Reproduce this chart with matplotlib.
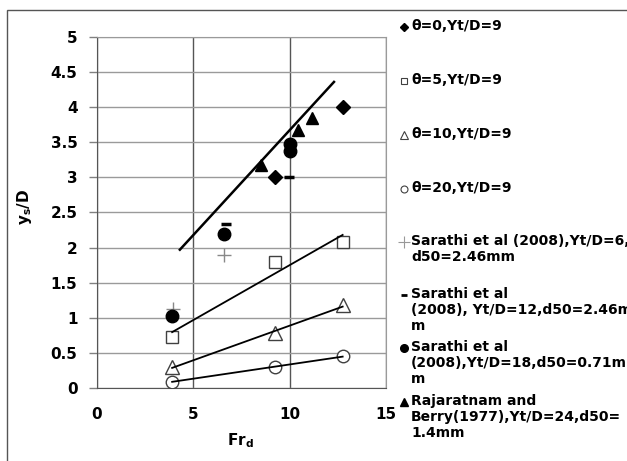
import numpy as np
import matplotlib
matplotlib.use('Agg')
import matplotlib.pyplot as plt
from matplotlib.lines import Line2D
from matplotlib.patches import Rectangle
from matplotlib.ticker import FuncFormatter

plt.rcParams['font.family'] = ['DejaVu Sans']
plt.rcParams['font.weight'] = 'bold'
plt.rcParams['mathtext.fontset'] = 'custom'
plt.rcParams['mathtext.rm'] = 'DejaVu Sans:bold'
plt.rcParams['mathtext.bf'] = 'DejaVu Sans:bold'
plt.rcParams['mathtext.it'] = 'DejaVu Sans:bold'

# theta = 0, 5, 10, 20 at Yt/D = 9
fr_t0 = [9.25, 12.75]
ys_t0 = [3.0, 4.0]
fr_t5 = [3.9, 9.25, 12.75]
ys_t5 = [0.73, 1.8, 2.08]
fr_t10 = [3.9, 9.25, 12.75]
ys_t10 = [0.3, 0.78, 1.18]
fr_t20 = [3.9, 9.25, 12.75]
ys_t20 = [0.09, 0.3, 0.45]

# Sarathi et al (2008)
fr_s6 = [3.95, 6.6]
ys_s6 = [1.12, 1.9]
fr_s12 = [6.7, 9.95]
ys_s12 = [2.33, 3.01]
fr_s18 = [3.9, 6.6, 10.0, 10.0]
ys_s18 = [1.03, 2.19, 3.38, 3.47]

# Rajaratnam and Berry (1977)
fr_rb = [8.5, 10.42, 11.15]
ys_rb = [3.18, 3.68, 3.84]

# envelope line
env_fr = [4.3, 12.3]
env_ys = [1.97, 4.36]

legend_labels = [
    'θ=0,Yt/D=9',
    'θ=5,Yt/D=9',
    'θ=10,Yt/D=9',
    'θ=20,Yt/D=9',
    'Sarathi et al (2008),Yt/D=6,\nd50=2.46mm',
    'Sarathi et al\n(2008), Yt/D=12,d50=2.46m\nm',
    'Sarathi et al\n(2008),Yt/D=18,d50=0.71m\nm',
    'Rajaratnam and\nBerry(1977),Yt/D=24,d50=\n1.4mm',
]

W, H = 627, 461
fig = plt.figure(figsize=(W / 100, H / 100), dpi=100)
fx = lambda px: px / W
fy = lambda py: 1 - py / H

ax = fig.add_axes([fx(97), fy(388), fx(386) - fx(97), fy(37) - fy(388)])

gray_edge = '#404040'
ax.plot(fr_t0, ys_t0, 'D', color='black', ms=7, zorder=5)
ax.plot(fr_t5, ys_t5, 's', mfc='white', mec=gray_edge, ms=9, mew=1, zorder=4)
ax.plot(fr_t10, ys_t10, '^', mfc='white', mec=gray_edge, ms=10, mew=1, zorder=4)
ax.plot(fr_t20, ys_t20, 'o', mfc='white', mec=gray_edge, ms=9, mew=1, zorder=4)
ax.plot(fr_s6, ys_s6, '+', color='#888888', ms=10, mew=1, zorder=4)
ax.plot(fr_s12, ys_s12, '_', color='black', ms=7, mew=2.5, zorder=4)
ax.plot(fr_s18, ys_s18, 'o', color='black', ms=9, zorder=5)
ax.plot(fr_rb, ys_rb, '^', color='black', ms=9, zorder=5)

# linear trend lines for the open-marker series
for xs, ys in [(fr_t5, ys_t5), (fr_t10, ys_t10), (fr_t20, ys_t20)]:
    k, b = np.polyfit(xs, ys, 1)
    xx = np.array([min(xs), max(xs)])
    ax.plot(xx, k * xx + b, color='black', lw=1.3, zorder=6)
ax.plot(env_fr, env_ys, color='black', lw=1.8, zorder=6)

ax.set_xlim(0, 15)
ax.set_ylim(0, 5)
ax.set_xticks([0, 5, 10, 15])
ax.set_yticks(np.arange(0, 5.01, 0.5))
ax.yaxis.set_major_formatter(FuncFormatter(lambda v, p: '%g' % v))
ax.tick_params(axis='both', labelsize=11, colors='black')
ax.tick_params(axis='y', length=6, width=1, color='#808080', pad=8)
ax.tick_params(axis='x', length=0, pad=14)
ax.xaxis.grid(True, color='#555555', lw=1)
ax.yaxis.grid(True, color='#9a9a9a', lw=1)
ax.set_axisbelow(True)
for side in ['left', 'bottom']:
    ax.spines[side].set_color('#555555')
for side in ['top', 'right']:
    ax.spines[side].set_color('#9a9a9a')

ax.set_xlabel(r'Fr$_\mathregular{d}$', fontsize=11, fontweight='bold')
ax.xaxis.set_label_coords((240 - 97) / (386 - 97), -(431 - 388) / (388 - 37))
ax.set_ylabel(r'y$_\mathregular{s}$/D', fontsize=11, fontweight='bold')
ax.yaxis.set_label_coords(-(97 - 34) / (386 - 97), (388 - 207) / (388 - 37))

# outer frame
fig.add_artist(Rectangle((fx(7), -0.1), 1.2, fy(10) + 0.1, transform=fig.transFigure,
                         fill=False, edgecolor='#555555', lw=1))

# legend, placed by hand
leg_markers = [
    dict(marker='D', color='black', ms=4.5),
    dict(marker='s', mfc='white', mec=gray_edge, ms=5, mew=0.8),
    dict(marker='^', mfc='white', mec=gray_edge, ms=6, mew=0.8),
    dict(marker='o', mfc='white', mec=gray_edge, ms=5, mew=0.8),
    dict(marker='+', color='#999999', ms=8, mew=0.8),
    dict(marker='_', color='black', ms=4, mew=2),
    dict(marker='o', color='black', ms=5.5),
    dict(marker='^', color='black', ms=6),
]
leg_y = [27, 81, 135, 189, 242, 295, 348, 402]
for lab, mk, py in zip(legend_labels, leg_markers, leg_y):
    fig.add_artist(Line2D([fx(404)], [fy(py)], linestyle='none',
                          transform=fig.transFigure, **mk))
    fig.text(fx(411), fy(py - 8), lab, fontsize=10, fontweight='bold',
             va='top', ha='left', linespacing=1.2)

fig.savefig('out.png', dpi=100)
